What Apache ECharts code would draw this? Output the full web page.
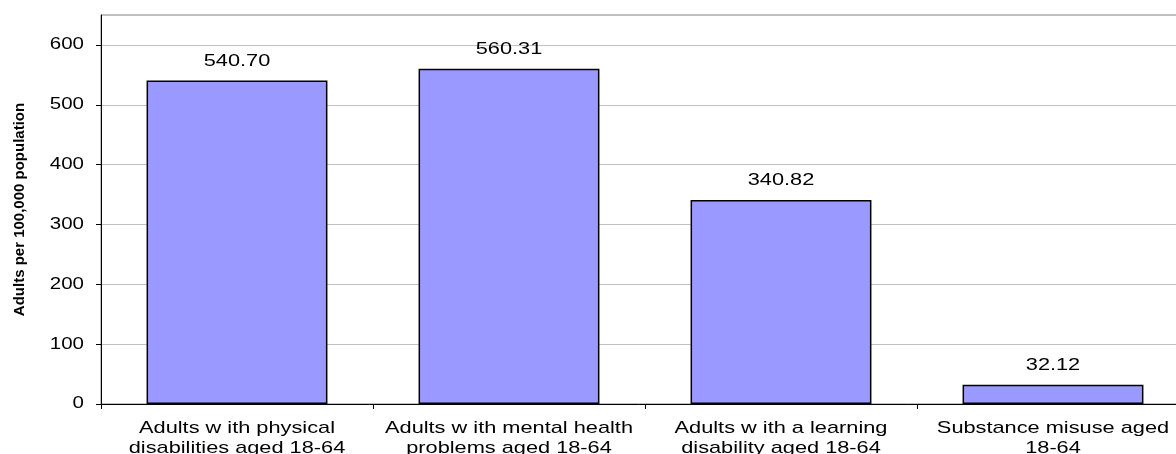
<!DOCTYPE html>
<html>
<head>
<meta charset="utf-8">
<script src="https://cdn.jsdelivr.net/npm/echarts@6/dist/echarts.min.js"></script>
<style>
  html, body { margin: 0; padding: 0; background: #ffffff; }
  #chart { width: 1176px; height: 454px; }
</style>
</head>
<body>
<div id="chart"></div>
<script>
// Categories (two-line labels) and rates per 100,000 population
const categories = [
  'Adults w ith physical\ndisabilities aged 18-64',
  'Adults w ith mental health\nproblems aged 18-64',
  'Adults w ith a learning\ndisability aged 18-64',
  'Substance misuse aged\n18-64'
];
const rates = [540.70, 560.31, 340.82, 32.12];
const yTicks = [0, 100, 200, 300, 400, 500, 600];

const FONT = '"Liberation Sans", Arial, sans-serif';

// Horizontal text is set in a wide face: regular-weight labels are drawn
// stretched along their baseline; the bold axis title keeps normal width.
const TEXT_STRETCH = 1.28;
(function () {
  const proto = CanvasRenderingContext2D.prototype;
  const baseFillText = proto.fillText;
  proto.fillText = function (text, x, y, maxWidth) {
    if (/bold|700/.test(this.font)) {
      return maxWidth === undefined
        ? baseFillText.call(this, text, x, y)
        : baseFillText.call(this, text, x, y, maxWidth);
    }
    this.save();
    this.translate(x, y);
    this.scale(TEXT_STRETCH, 1);
    baseFillText.call(this, text, 0, 0);
    this.restore();
  };
})();

const chart = echarts.init(document.getElementById('chart'), null, { renderer: 'canvas' });

chart.setOption({
  animation: false,
  backgroundColor: '#ffffff',
  grid: {
    left: 101,
    top: 15,
    right: -13,
    bottom: 50,
    containLabel: false,
    outerBoundsMode: 'none',
    show: true,
    borderColor: '#808080',
    borderWidth: 1
  },
  xAxis: {
    type: 'category',
    data: categories,
    boundaryGap: true,
    axisLine: { show: true, lineStyle: { color: '#000000', width: 1 } },
    axisTick: { show: true, alignWithLabel: false, length: 5, lineStyle: { color: '#000000' } },
    axisLabel: {
      interval: 0,
      margin: 14,
      fontFamily: FONT,
      fontSize: 17,
      color: '#000000',
      lineHeight: 20
    },
    splitLine: { show: false }
  },
  yAxis: {
    type: 'value',
    min: yTicks[0],
    max: 650,
    interval: 100,
    name: 'Adults per 100,000 population',
    nameLocation: 'middle',
    nameRotate: 90,
    nameGap: 74,
    nameTextStyle: {
      fontFamily: FONT,
      fontSize: 15,
      fontWeight: 'bold',
      color: '#000000'
    },
    axisLine: { show: true, lineStyle: { color: '#000000', width: 1 } },
    axisTick: {
      show: true,
      length: 5,
      customValues: yTicks,
      lineStyle: { color: '#000000' }
    },
    axisLabel: {
      customValues: yTicks,
      margin: 17,
      fontFamily: FONT,
      fontSize: 16,
      color: '#000000'
    },
    splitLine: { show: true, lineStyle: { color: '#c0c0c0', width: 1 } }
  },
  series: [{
    type: 'bar',
    data: rates,
    barCategoryGap: '33.5%',
    itemStyle: {
      color: '#9999ff',
      borderColor: '#000000',
      borderWidth: 1.5
    },
    label: {
      show: true,
      position: 'top',
      distance: 11,
      fontFamily: FONT,
      fontSize: 17,
      color: '#000000',
      formatter: p => p.value.toFixed(2)
    }
  }]
});
</script>
</body>
</html>
